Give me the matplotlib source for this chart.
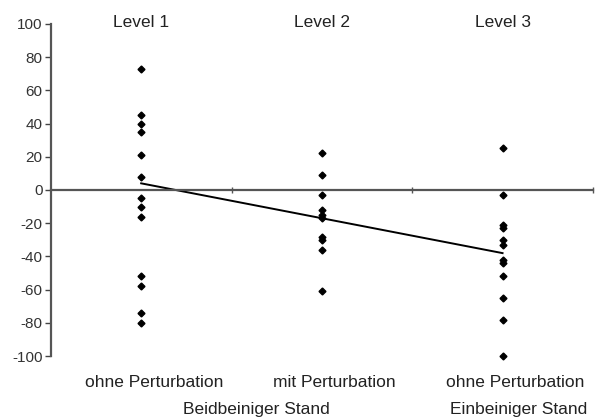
import matplotlib
matplotlib.use("Agg")
import matplotlib.pyplot as plt

plt.rcParams["font.family"] = ["Liberation Sans", "DejaVu Sans"]

# values
levels = ["Level 1", "Level 2", "Level 3"]
conditions = ["ohne Perturbation", "mit Perturbation", "ohne Perturbation"]
stances = ["Beidbeiniger Stand", "Einbeiniger Stand"]

level1 = [73, 45, 40, 35, 21, 8, -5, -10, -16, -52, -58, -74, -80]
level2 = [22, 9, -3, -12, -15, -17, -28, -30, -36, -61]
level3 = [25, -3, -21, -23, -30, -33, -42, -44, -52, -65, -78, -100]
means = [4, -17, -38]

yticks = [100, 80, 60, 40, 20, 0, -20, -40, -60, -80, -100]


def main():
    fig = plt.figure(figsize=(6.05, 4.18), dpi=100)
    ax = fig.add_axes([0.084, 0.148, 0.896, 0.795])

    for i, vals in enumerate([level1, level2, level3], start=1):
        ax.plot([i] * len(vals), vals, ls="none", marker="D", ms=3.5,
                color="black", clip_on=False, zorder=3)
    ax.plot([1, 2, 3], means, color="black", lw=1.4)

    ax.set_xlim(0.5, 3.5)
    ax.set_ylim(-100, 100)
    ax.set_yticks(yticks)
    ax.set_yticklabels([str(v) for v in yticks], fontsize=11)
    ax.tick_params(axis="y", direction="out", length=4, width=1, pad=2,
                   color="#444444", labelcolor="#333333")

    # horizontal axis crossing at zero, ticks between categories
    ax.spines["bottom"].set_position(("data", 0))
    ax.spines["top"].set_visible(False)
    ax.spines["right"].set_visible(False)
    for s in ("left", "bottom"):
        ax.spines[s].set_color("#555555")
        ax.spines[s].set_linewidth(1.6)
    ax.set_xticks([1.5, 2.5, 3.5])
    ax.set_xticklabels([])
    ax.tick_params(axis="x", direction="inout", length=4, width=1,
                   color="#555555")

    fs = 12.5
    for i, lab in enumerate(levels, start=1):
        ax.text(i, 101, lab, ha="center", va="center", fontsize=fs,
                color="#222222")
    for i, lab in enumerate(conditions, start=1):
        ax.text(i + 0.07, -116, lab, ha="center", va="center", fontsize=fs,
                color="#222222")
    for x, lab in zip([1.64, 3.09], stances):
        ax.text(x, -132, lab, ha="center", va="center", fontsize=fs,
                color="#222222")

    fig.savefig("out.png", dpi=100)


if __name__ == "__main__":
    main()
